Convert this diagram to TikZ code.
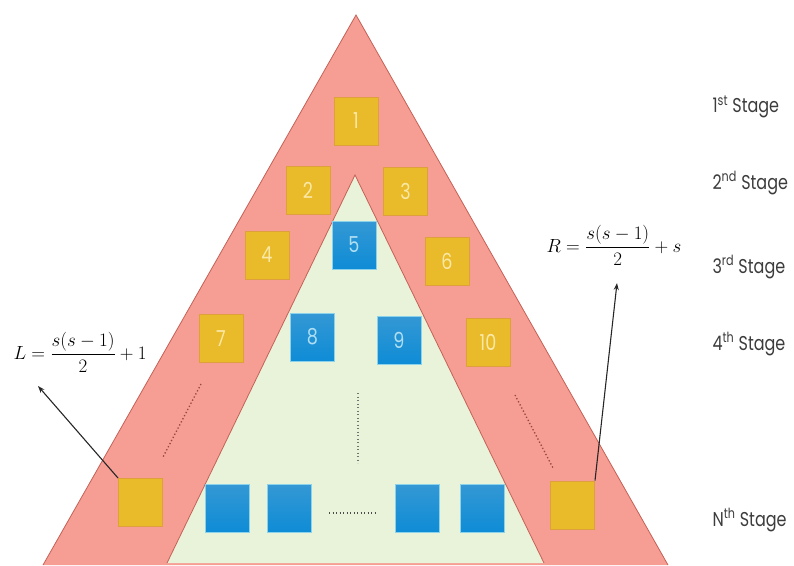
\RequirePackage{fix-cm}
\documentclass[tikz,border=0pt]{standalone}
\usepackage{fontspec}
\newfontfamily\gothic[FakeStretch=0.8]{Poppins}
\usetikzlibrary{arrows.meta}
\definecolor{pinkfill}{RGB}{246,158,148}
\definecolor{pinkedge}{RGB}{196,96,86}
\definecolor{greenfill}{RGB}{232,243,218}
\definecolor{yelfill}{RGB}{233,186,42}
\definecolor{yeledge}{RGB}{222,160,60}
\definecolor{yeltext}{RGB}{250,232,165}
\definecolor{bluetop}{RGB}{52,152,212}
\definecolor{bluebot}{RGB}{14,140,214}
\definecolor{blueedge}{RGB}{140,210,235}
\definecolor{bluetext}{RGB}{175,222,242}
\definecolor{stagetext}{RGB}{60,60,60}
\begin{document}
\begin{tikzpicture}[x=1pt,y=-1pt,
  ysq/.style={draw=yeledge, line width=1pt, fill=yelfill, minimum width=44pt, minimum height=48pt, inner sep=0pt, font=\gothic\fontsize{22}{22}\selectfont, text=yeltext},
  bsq/.style={draw=blueedge, line width=0.8pt, top color=bluetop, bottom color=bluebot, minimum width=44pt, minimum height=48pt, inner sep=0pt, font=\gothic\fontsize{22}{22}\selectfont, text=bluetext},
  stagelbl/.style={anchor=west, font=\gothic\fontsize{20}{20}\selectfont, text=stagetext},
  formula/.style={font=\fontsize{19}{21}\selectfont, text=black},
  dotline/.style={line width=1.3pt, dash pattern=on 1.3pt off 2.2pt},
  arr/.style={-{Stealth[length=7pt,width=5pt]}, line width=1.1pt, black!85}]
\useasboundingbox (0,0) rectangle (794,565);
% triangles
\fill[pinkfill] (356,15) -- (668,565) -- (43,565) -- cycle;
\draw[pinkedge, line width=0.8pt] (43,565) -- (356,15) -- (668,565);
\fill[greenfill] (355,175) -- (544,563) -- (167,563) -- cycle;
\draw[pinkedge, line width=0.8pt] (167,563) -- (355,175) -- (544,563);
% squares
\node[ysq] (s1) at (356,121) {1};
\node[ysq] (s2) at (308,190) {2};
\node[ysq] (s3) at (405.5,191) {3};
\node[ysq] (s4) at (267,255) {4};
\node[bsq] (s5) at (354,245) {5};
\node[ysq] (s6) at (447,261) {6};
\node[ysq] (s7) at (221,338.5) {7};
\node[bsq] (s8) at (312.5,337) {8};
\node[bsq] (s9) at (399,340) {9};
\node[ysq] (s10) at (488,342) {10};
\node[ysq] (sL) at (140.5,502.5) {};
\node[ysq] (sR) at (572.5,505) {};
\node[bsq] (b1) at (227.5,508) {};
\node[bsq] (b2) at (289.5,508.5) {};
\node[bsq] (b3) at (417.5,508.5) {};
\node[bsq] (b4) at (482.5,508) {};
% dotted continuation lines
\coordinate (dl1) at (201,384); \coordinate (dl2) at (163,457);
\coordinate (dr1) at (515,395); \coordinate (dr2) at (553,468);
\coordinate (dc1) at (358,393); \coordinate (dc2) at (358,463);
\coordinate (dh1) at (329,513); \coordinate (dh2) at (377,513);
\draw[dotline, pinkedge!75!black] (dl1) -- (dl2);
\draw[dotline, pinkedge!75!black] (dr1) -- (dr2);
\draw[dotline, black!55] (dc1) -- (dc2);
\draw[dotline, black!70] (dh1) -- (dh2);
% formulas
\node[formula, anchor=west] (fL) at (10,352) {$\displaystyle L=\frac{s(s-1)}{2}+1$};
\node[formula, anchor=west] (fR) at (543,245) {$\displaystyle R=\frac{s(s-1)}{2}+s$};
\coordinate (aL) at (38,386);
\coordinate (aR) at (617,283);
\draw[arr] (sL.north west) -- (aL);
\draw[arr] (sR.north east) -- (aR);
% stage labels
\node[stagelbl] (st1) at (709,107) {1\textsuperscript{st} Stage};
\node[stagelbl] (st2) at (709,183) {2\textsuperscript{nd} Stage};
\node[stagelbl] (st3) at (709,267) {3\textsuperscript{rd} Stage};
\node[stagelbl] (st4) at (709,344) {4\textsuperscript{th} Stage};
\node[stagelbl] (stN) at (709,520) {N\textsuperscript{th} Stage};
\end{tikzpicture}
\end{document}
